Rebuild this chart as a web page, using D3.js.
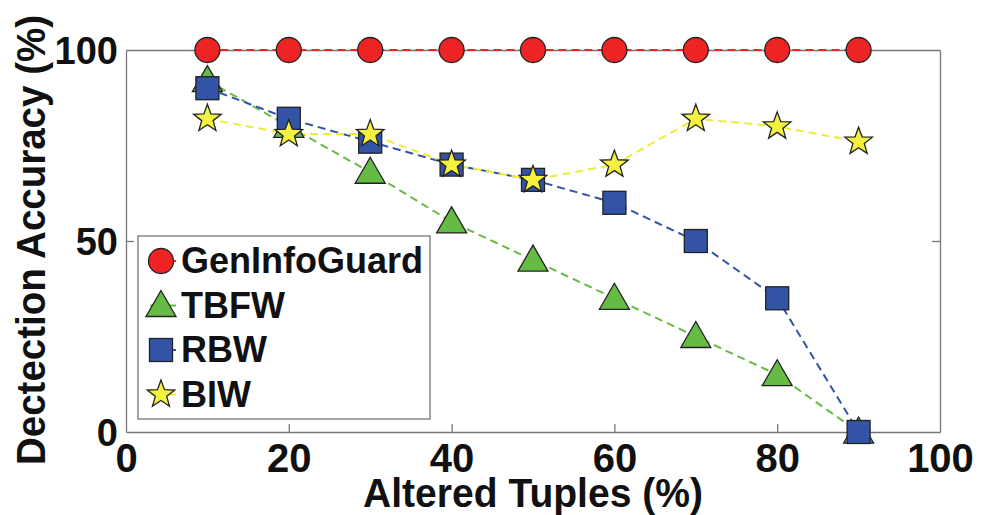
<!DOCTYPE html>
<html>
<head>
<meta charset="utf-8">
<script src="https://cdn.jsdelivr.net/npm/d3@7"></script>
<style>
  body { margin: 0; background: #fff; }
  svg { display: block; font-family: "Liberation Sans", Arial, sans-serif; font-weight: bold; }
</style>
</head>
<body>
<svg id="chart" width="988" height="515"></svg>
<script>
// chart data
const xValues = [10, 20, 30, 40, 50, 60, 70, 80, 90];
const genInfoGuard = [100, 100, 100, 100, 100, 100, 100, 100, 100];
const tbfw = [92, 80, 68, 55, 45, 35, 25, 15, 0];
const rbw = [90, 82, 76, 70, 66, 60, 50, 35, 0];
const biw = [82, 78, 78, 70, 66, 70, 82, 80, 76];
const xTicks = [0, 20, 40, 60, 80, 100];
const yTicks = [0, 50, 100];

const series = [
  { name: "GenInfoGuard", values: genInfoGuard, shape: "circle", fill: "#ee2424", line: "#ee2424" },
  { name: "TBFW", values: tbfw, shape: "triangle", fill: "#66bb44", line: "#66bb44" },
  { name: "RBW", values: rbw, shape: "square", fill: "#3353a6", line: "#3353a6" },
  { name: "BIW", values: biw, shape: "star", fill: "#f4f23e", line: "#eeec3a" }
];

const margin = { left: 126, right: 48, top: 50, bottom: 83 };
const W = 988, H = 515;
const svg = d3.select("#chart");

const x = d3.scaleLinear().domain([0, 100]).range([margin.left, W - margin.right]);
const y = d3.scaleLinear().domain([0, 100]).range([H - margin.bottom, margin.top]);

// marker shapes
function starPath(R, r) {
  const pts = [];
  for (let i = 0; i < 10; i++) {
    const a = -Math.PI / 2 + i * Math.PI / 5;
    const rad = i % 2 === 0 ? R : r;
    pts.push([rad * Math.cos(a), rad * Math.sin(a)]);
  }
  return "M" + pts.map((p) => p.join(",")).join("L") + "Z";
}

function drawMarker(g, shape, fill) {
  const stroke = "#222";
  if (shape === "circle") {
    g.append("circle").attr("r", 12.5).attr("fill", fill).attr("stroke", stroke).attr("stroke-width", 1.3);
  } else if (shape === "triangle") {
    g.append("path").attr("d", "M0,-15L15,11L-15,11Z").attr("fill", fill).attr("stroke", stroke).attr("stroke-width", 1.3);
  } else if (shape === "square") {
    g.append("rect").attr("x", -11.5).attr("y", -11.5).attr("width", 23).attr("height", 23)
      .attr("fill", fill).attr("stroke", stroke).attr("stroke-width", 1.3);
  } else {
    g.append("path").attr("d", starPath(14.5, 6)).attr("fill", fill).attr("stroke", stroke).attr("stroke-width", 1.3);
  }
}

// axes box with inward ticks on all sides
const axisColor = "#777";
const tickLen = 8;
const bottomAxis = svg.append("g").attr("transform", `translate(0,${y(0)})`)
  .call(d3.axisBottom(x).tickValues(xTicks).tickSizeInner(-tickLen).tickSizeOuter(0).tickPadding(0));
const topAxis = svg.append("g").attr("transform", `translate(0,${y(100)})`)
  .call(d3.axisTop(x).tickValues(xTicks).tickSizeInner(-tickLen).tickSizeOuter(0).tickFormat(""));
const leftAxis = svg.append("g").attr("transform", `translate(${x(0)},0)`)
  .call(d3.axisLeft(y).tickValues(yTicks).tickSizeInner(-tickLen).tickSizeOuter(0).tickPadding(8));
const rightAxis = svg.append("g").attr("transform", `translate(${x(100)},0)`)
  .call(d3.axisRight(y).tickValues(yTicks).tickSizeInner(-tickLen).tickSizeOuter(0).tickFormat(""));

[bottomAxis, topAxis, leftAxis, rightAxis].forEach((a) => {
  a.select(".domain").attr("stroke", axisColor).attr("stroke-width", 1.3);
  a.selectAll(".tick line").attr("stroke", axisColor).attr("stroke-width", 1.3);
  a.selectAll(".tick text").attr("fill", "#111")
    .attr("font-family", "Liberation Sans, Arial, sans-serif").attr("font-weight", "bold");
});
// drop the end ticks that sit on the box corners
[bottomAxis, topAxis, leftAxis, rightAxis].forEach((a) =>
  a.selectAll(".tick line").filter((d) => d === 0 || d === 100).remove());
leftAxis.selectAll(".tick text").attr("font-size", 38).attr("dy", "0.36em");
bottomAxis.selectAll(".tick text").attr("font-size", 40).attr("y", 40).attr("dy", 0);

// axis titles
svg.append("text").attr("x", (x(0) + x(100)) / 2).attr("y", 507)
  .attr("text-anchor", "middle").attr("font-size", 40).attr("fill", "#111")
  .attr("textLength", 340).attr("lengthAdjust", "spacingAndGlyphs")
  .text("Altered Tuples (%)");
svg.append("text").attr("transform", `translate(45,240) rotate(-90)`)
  .attr("text-anchor", "middle").attr("font-size", 41).attr("fill", "#111")
  .attr("textLength", 450).attr("lengthAdjust", "spacingAndGlyphs")
  .text("Dectection Accuracy (%)");

// lines and markers
const line = d3.line().x((d) => x(d[0])).y((d) => y(d[1]));
const plot = svg.append("g");
series.forEach((s) => {
  const pts = xValues.map((xv, i) => [xv, s.values[i]]);
  plot.append("path").attr("d", line(pts)).attr("fill", "none")
    .attr("stroke", s.line).attr("stroke-width", 2).attr("stroke-dasharray", "8,5");
});
series.forEach((s) => {
  xValues.forEach((xv, i) => {
    const g = plot.append("g").attr("transform", `translate(${x(xv)},${y(s.values[i])})`);
    drawMarker(g, s.shape, s.fill);
  });
});

// legend
const legend = svg.append("g");
legend.append("rect").attr("x", 138).attr("y", 236).attr("width", 292).attr("height", 183)
  .attr("fill", "#fff").attr("stroke", axisColor).attr("stroke-width", 1.3);
series.forEach((s, i) => {
  const ly = 261 + i * 44.5;
  legend.append("line").attr("x1", 150).attr("x2", 176).attr("y1", ly).attr("y2", ly)
    .attr("stroke", s.line).attr("stroke-width", 2);
  const g = legend.append("g").attr("transform", `translate(161,${ly})`);
  drawMarker(g, s.shape, s.fill);
  legend.append("text").attr("x", 181).attr("y", ly + 12)
    .attr("font-size", 36).attr("fill", "#111").text(s.name);
});
</script>
</body>
</html>
